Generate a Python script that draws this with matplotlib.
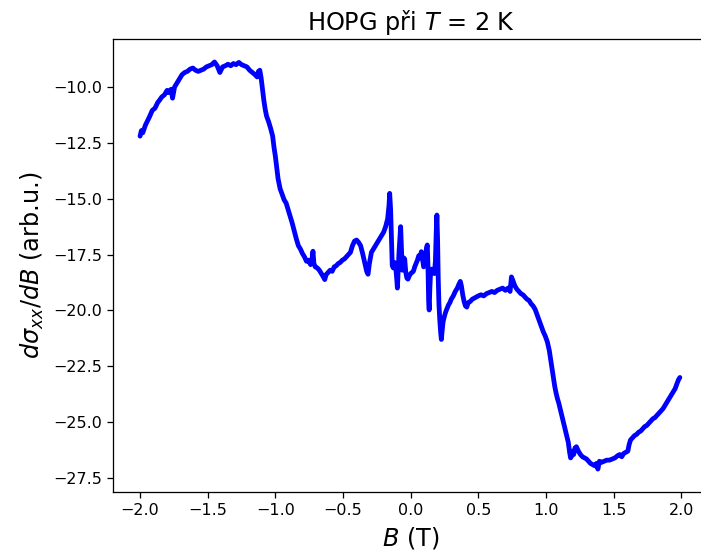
import matplotlib
matplotlib.use("Agg")
import matplotlib.pyplot as plt

B_vals = [
    -2.00, -1.99, -1.98, -1.96, -1.94, -1.93, -1.91, -1.89, -1.87, -1.855,
    -1.84, -1.82, -1.80, -1.79, -1.77, -1.76, -1.745, -1.73, -1.71, -1.69,
    -1.67, -1.65, -1.63, -1.61, -1.59, -1.57, -1.55, -1.53, -1.51, -1.49,
    -1.47, -1.45, -1.43, -1.41, -1.39, -1.37, -1.35, -1.33, -1.31, -1.29,
    -1.27, -1.25, -1.23, -1.21, -1.19, -1.17, -1.15, -1.135, -1.125, -1.115,
    -1.105, -1.095, -1.085, -1.075, -1.065, -1.05, -1.035, -1.02, -1.01, -1.00,
    -0.99, -0.98, -0.965, -0.95, -0.935, -0.92, -0.905, -0.89, -0.875, -0.86,
    -0.845, -0.83, -0.815, -0.80, -0.785, -0.77, -0.755, -0.74, -0.73, -0.722,
    -0.715, -0.705, -0.69, -0.675, -0.66, -0.645, -0.635, -0.625, -0.61, -0.595,
    -0.58, -0.565, -0.55, -0.535, -0.52, -0.505, -0.49, -0.475, -0.46, -0.445,
    -0.43, -0.415, -0.40, -0.385, -0.37, -0.355, -0.34, -0.325, -0.315, -0.305,
    -0.29, -0.275, -0.26, -0.245, -0.23, -0.215, -0.20, -0.185, -0.17, -0.16,
    -0.155, -0.148, -0.142, -0.136, -0.128, -0.12, -0.112, -0.104, -0.098, -0.092,
    -0.086, -0.080, -0.074, -0.068, -0.062, -0.056, -0.050, -0.044, -0.036, -0.028,
    -0.020, -0.010, 0.000, 0.010, 0.020, 0.030, 0.040, 0.050, 0.060, 0.070,
    0.079, 0.088, 0.096, 0.103, 0.110, 0.117, 0.123, 0.128, 0.133, 0.137,
    0.142, 0.148, 0.155, 0.165, 0.175, 0.183, 0.189, 0.194, 0.199, 0.204,
    0.209, 0.215, 0.222, 0.227, 0.233, 0.240, 0.250, 0.260, 0.270, 0.280,
    0.290, 0.300, 0.315, 0.330, 0.345, 0.355, 0.367, 0.375, 0.385, 0.395,
    0.405, 0.415, 0.425, 0.440, 0.455, 0.470, 0.485, 0.50, 0.52, 0.54,
    0.56, 0.58, 0.60, 0.62, 0.64, 0.66, 0.68, 0.70, 0.72, 0.735,
    0.745, 0.755, 0.77, 0.785, 0.80, 0.815, 0.83, 0.845, 0.86, 0.875,
    0.89, 0.905, 0.92, 0.935, 0.95, 0.965, 0.98, 0.995, 1.01, 1.025,
    1.035, 1.045, 1.055, 1.065, 1.075, 1.085, 1.095, 1.105, 1.115, 1.125,
    1.135, 1.145, 1.155, 1.165, 1.175, 1.182, 1.188, 1.195, 1.205, 1.215,
    1.225, 1.24, 1.255, 1.27, 1.285, 1.30, 1.315, 1.33, 1.345, 1.36,
    1.372, 1.384, 1.395, 1.41, 1.43, 1.45, 1.47, 1.49, 1.51, 1.53,
    1.545, 1.56, 1.575, 1.59, 1.605, 1.615, 1.625, 1.64, 1.655, 1.67,
    1.685, 1.70, 1.715, 1.73, 1.745, 1.76, 1.775, 1.79, 1.805, 1.82,
    1.835, 1.85, 1.865, 1.88, 1.895, 1.91, 1.925, 1.94, 1.955, 1.97,
    1.98, 1.99,
]

dsigma_vals = [
    -12.20, -11.95, -12.05, -11.70, -11.45, -11.33, -11.05, -10.95, -10.70, -10.58,
    -10.45, -10.35, -10.15, -10.25, -10.10, -10.50, -10.00, -9.85, -9.65, -9.45,
    -9.35, -9.30, -9.20, -9.15, -9.25, -9.30, -9.25, -9.20, -9.10, -9.05,
    -9.00, -8.88, -9.05, -9.35, -9.10, -9.05, -8.98, -9.05, -8.95, -9.00,
    -8.90, -9.00, -9.05, -9.10, -9.25, -9.35, -9.45, -9.55, -9.30, -9.25,
    -9.60, -10.10, -10.60, -11.00, -11.30, -11.55, -11.85, -12.20, -12.70, -13.10,
    -13.60, -14.10, -14.55, -14.80, -15.05, -15.20, -15.50, -15.80, -16.10, -16.45,
    -16.80, -17.10, -17.25, -17.45, -17.60, -17.80, -17.75, -17.95, -17.75, -17.35,
    -17.90, -18.05, -18.10, -18.20, -18.35, -18.50, -18.62, -18.40, -18.30, -18.20,
    -18.25, -18.05, -18.00, -17.90, -17.85, -17.75, -17.70, -17.60, -17.50, -17.40,
    -17.10, -16.90, -16.85, -16.95, -17.10, -17.45, -17.85, -18.25, -18.38, -17.90,
    -17.40, -17.25, -17.10, -16.95, -16.80, -16.65, -16.50, -16.25, -15.90, -15.30,
    -14.76, -15.50, -16.80, -18.00, -18.10, -17.85, -17.95, -18.50, -19.00, -18.20,
    -17.40, -16.80, -16.25, -17.20, -18.20, -17.90, -17.65, -17.70, -18.30, -18.55,
    -18.60, -18.45, -18.35, -18.30, -18.25, -18.05, -17.90, -17.75, -17.55, -17.65,
    -17.37, -17.70, -18.05, -18.00, -17.60, -17.20, -17.07, -18.00, -19.60, -19.98,
    -19.00, -18.20, -18.15, -18.30, -18.35, -17.80, -16.50, -15.73, -16.80, -18.60,
    -19.70, -20.40, -21.00, -21.30, -20.90, -20.50, -20.25, -20.05, -19.90, -19.75,
    -19.65, -19.50, -19.35, -19.15, -19.00, -18.85, -18.70, -18.90, -19.30, -19.60,
    -19.80, -19.85, -19.65, -19.60, -19.50, -19.45, -19.40, -19.35, -19.30, -19.35,
    -19.25, -19.20, -19.15, -19.20, -19.10, -19.05, -19.00, -19.10, -19.00, -19.15,
    -18.50, -18.65, -18.90, -19.05, -19.15, -19.25, -19.30, -19.40, -19.50, -19.55,
    -19.70, -19.80, -19.95, -20.20, -20.45, -20.70, -20.95, -21.15, -21.40, -21.80,
    -22.20, -22.60, -23.00, -23.40, -23.70, -23.95, -24.15, -24.40, -24.65, -24.90,
    -25.15, -25.40, -25.65, -25.90, -26.35, -26.60, -26.55, -26.30, -26.45, -26.15,
    -26.10, -26.30, -26.45, -26.55, -26.60, -26.65, -26.75, -26.85, -26.90, -26.95,
    -26.85, -27.10, -26.75, -26.80, -26.75, -26.70, -26.70, -26.65, -26.60, -26.50,
    -26.45, -26.55, -26.40, -26.35, -26.30, -26.00, -25.80, -25.70, -25.60, -25.55,
    -25.45, -25.40, -25.30, -25.20, -25.15, -25.05, -24.95, -24.85, -24.80, -24.70,
    -24.60, -24.50, -24.40, -24.25, -24.10, -23.95, -23.80, -23.65, -23.50, -23.25,
    -23.10, -23.00,
]

DPI = 115
fig = plt.figure(figsize=(701 / DPI, 555 / DPI), dpi=DPI)
ax = fig.add_axes([113 / 701, (555 - 492.3) / 555, 595.3 / 701, 453.0 / 555])

ax.plot(B_vals, dsigma_vals, color="blue", linewidth=3.0,
        solid_joinstyle="round", solid_capstyle="round")

ax.set_xlim(-2.2, 2.2)
ax.set_ylim(-28.14, -7.865)
ax.set_xticks([-2.0, -1.5, -1.0, -0.5, 0.0, 0.5, 1.0, 1.5, 2.0])
ax.set_yticks([-10.0, -12.5, -15.0, -17.5, -20.0, -22.5, -25.0, -27.5])
ax.tick_params(labelsize=10)
ax.spines["right"].set_visible(False)

ax.set_title("HOPG při $T$ = 2 K", fontsize=15)
ax.set_xlabel("$B$ (T)", fontsize=15)
ax.set_ylabel(r"$d\sigma_{xx}/dB$ (arb.u.)", fontsize=15)

fig.savefig("out.png", dpi=DPI)
